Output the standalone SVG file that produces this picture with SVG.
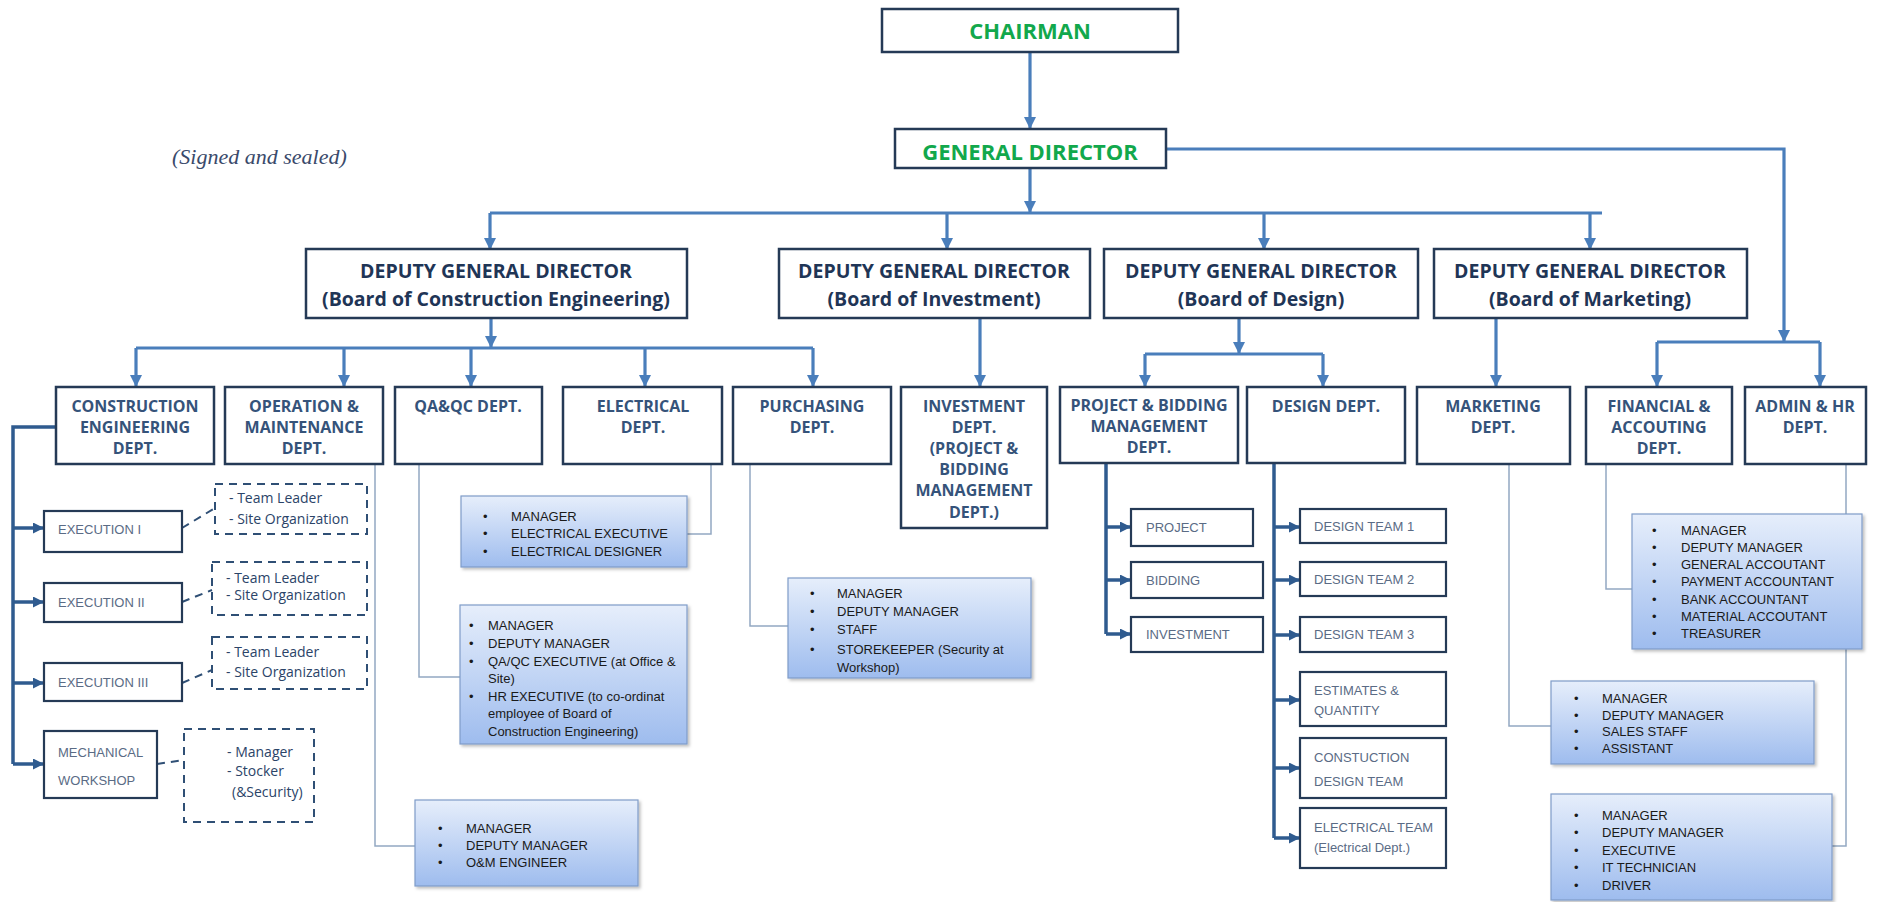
<svg xmlns="http://www.w3.org/2000/svg" width="1896" height="902" viewBox="0 0 1896 902">
<defs>
<linearGradient id="g" x1="0" y1="0" x2="0" y2="1"><stop offset="0" stop-color="#e6eefb"/><stop offset="1" stop-color="#9ebcee"/></linearGradient>
<filter id="sh" x="-5%" y="-5%" width="115%" height="120%"><feDropShadow dx="2" dy="2" stdDeviation="1.5" flood-color="#000" flood-opacity="0.25"/></filter>
<marker id="a" markerUnits="userSpaceOnUse" markerWidth="12" markerHeight="12" viewBox="0 0 10 10" refX="10" refY="5" orient="auto"><path d="M0,0 L10,5 L0,10 z" fill="#4a7ebb"/></marker>
<marker id="ad" markerUnits="userSpaceOnUse" markerWidth="11" markerHeight="11" viewBox="0 0 10 10" refX="10" refY="5" orient="auto"><path d="M0,0 L10,5 L0,10 z" fill="#2f5b8f"/></marker>
<style>
.box{fill:#fff;stroke:#253a56;stroke-width:2.5}
.sb{fill:#fff;stroke:#253a56;stroke-width:2.2}
.hd{font-family:"Open Sans","Liberation Sans",sans-serif;font-weight:700;fill:#35537a;font-size:16px;text-anchor:middle}
.top{fill:#12a84c;font-size:22px}
.dgd{fill:#1f3556;font-size:19.5px}
.st{font-family:"Liberation Sans",Arial,sans-serif;font-size:13px;fill:#5a6b85}
.li{font-family:"Liberation Sans",Arial,sans-serif;font-size:13px;fill:#1a1a1a}
.lb{fill:url(#g);stroke:#7f9cc9;stroke-width:1.2;filter:url(#sh)}
.c{stroke:#4a7ebb;stroke-width:3.2;fill:none}
.cd{stroke:#2f5b8f;stroke-width:3.5;fill:none}
.t{stroke:#93a8c2;stroke-width:1.5;fill:none}
.d{stroke:#2f4f75;stroke-width:2;stroke-dasharray:8 6;fill:none}
.dt{font-family:"Open Sans","Liberation Sans",sans-serif;font-size:14px;fill:#2b4468}
</style>
</defs>
<rect width="1896" height="902" fill="#fff"/>

<text x="172" y="164" font-family="Liberation Serif,serif" font-style="italic" font-size="22" fill="#3a4a6b">(Signed and sealed)</text>

<g id="connectors">
<path class="c" d="M1030,52 V129" marker-end="url(#a)"/>
<path class="c" d="M1030,168 V213" marker-end="url(#a)"/>
<path class="c" d="M490,213 H1602"/>
<path class="c" d="M490,213 V250" marker-end="url(#a)"/>
<path class="c" d="M947,213 V250" marker-end="url(#a)"/>
<path class="c" d="M1264,213 V250" marker-end="url(#a)"/>
<path class="c" d="M1590,213 V250" marker-end="url(#a)"/>
<path class="c" d="M1166,149 H1784 V342" marker-end="url(#a)"/>
<path class="c" d="M1657,342 H1820"/>
<path class="c" d="M1657,342 V387" marker-end="url(#a)"/>
<path class="c" d="M1820,342 V387" marker-end="url(#a)"/>
<path class="c" d="M491,318 V348" marker-end="url(#a)"/>
<path class="c" d="M136,348 H813"/>
<path class="c" d="M136,348 V387" marker-end="url(#a)"/>
<path class="c" d="M344,348 V387" marker-end="url(#a)"/>
<path class="c" d="M471,348 V387" marker-end="url(#a)"/>
<path class="c" d="M645,348 V387" marker-end="url(#a)"/>
<path class="c" d="M813,348 V387" marker-end="url(#a)"/>
<path class="c" d="M980,318 V387" marker-end="url(#a)"/>
<path class="c" d="M1239,318 V354" marker-end="url(#a)"/>
<path class="c" d="M1145,354 H1323"/>
<path class="c" d="M1145,354 V387" marker-end="url(#a)"/>
<path class="c" d="M1323,354 V387" marker-end="url(#a)"/>
<path class="c" d="M1496,318 V387" marker-end="url(#a)"/>
<path class="cd" d="M56,427 H13 V764"/>
<path class="cd" d="M13,528 H44" marker-end="url(#ad)"/>
<path class="cd" d="M13,602 H44" marker-end="url(#ad)"/>
<path class="cd" d="M13,683 H44" marker-end="url(#ad)"/>
<path class="cd" d="M13,764 H44" marker-end="url(#ad)"/>
<path class="cd" d="M1106,463 V634"/>
<path class="cd" d="M1106,527 H1131" marker-end="url(#ad)"/>
<path class="cd" d="M1106,580 H1131" marker-end="url(#ad)"/>
<path class="cd" d="M1106,634 H1131" marker-end="url(#ad)"/>
<path class="cd" d="M1274,463 V838"/>
<path class="cd" d="M1274,527 H1300" marker-end="url(#ad)"/>
<path class="cd" d="M1274,580 H1300" marker-end="url(#ad)"/>
<path class="cd" d="M1274,635 H1300" marker-end="url(#ad)"/>
<path class="cd" d="M1274,700 H1300" marker-end="url(#ad)"/>
<path class="cd" d="M1274,768 H1300" marker-end="url(#ad)"/>
<path class="cd" d="M1274,838 H1300" marker-end="url(#ad)"/>
<path class="t" d="M375,464 V846 H415"/>
<path class="t" d="M419,464 V677 H460"/>
<path class="t" d="M711,464 V534 H687"/>
<path class="t" d="M750,464 V626 H788"/>
<path class="t" d="M1509,464 V726 H1551"/>
<path class="t" d="M1606,464 V589 H1632"/>
<path class="t" d="M1846,464 V846 H1832"/>
<path class="d" d="M182,528 L215,508"/>
<path class="d" d="M182,602 L212,590"/>
<path class="d" d="M182,683 L212,670"/>
<path class="d" d="M157,764 L184,760"/>
</g>

<g id="chairman"><rect class="box" x="882" y="9" width="296" height="43"/><text class="hd top" x="1030" y="39">CHAIRMAN</text></g>
<g id="general-director"><rect class="box" x="895" y="129" width="271" height="39"/><text class="hd top" x="1030" y="160">GENERAL DIRECTOR</text></g>

<g id="dgd-construction"><rect class="box" x="306" y="249" width="381" height="69"/><text class="hd dgd" x="496" y="278">DEPUTY GENERAL DIRECTOR</text><text class="hd dgd" x="496" y="306">(Board of Construction Engineering)</text></g>
<g id="dgd-investment"><rect class="box" x="779" y="249" width="311" height="69"/><text class="hd dgd" x="934" y="278">DEPUTY GENERAL DIRECTOR</text><text class="hd dgd" x="934" y="306">(Board of Investment)</text></g>
<g id="dgd-design"><rect class="box" x="1104" y="249" width="314" height="69"/><text class="hd dgd" x="1261" y="278">DEPUTY GENERAL DIRECTOR</text><text class="hd dgd" x="1261" y="306">(Board of Design)</text></g>
<g id="dgd-marketing"><rect class="box" x="1434" y="249" width="313" height="69"/><text class="hd dgd" x="1590" y="278">DEPUTY GENERAL DIRECTOR</text><text class="hd dgd" x="1590" y="306">(Board of Marketing)</text></g>

<g id="construction-dept"><rect class="box" x="56" y="387" width="158" height="77"/><text class="hd" x="135" y="412">CONSTRUCTION</text><text class="hd" x="135" y="433">ENGINEERING</text><text class="hd" x="135" y="454">DEPT.</text></g>
<g id="om-dept"><rect class="box" x="225" y="387" width="158" height="77"/><text class="hd" x="304" y="412">OPERATION &amp;</text><text class="hd" x="304" y="433">MAINTENANCE</text><text class="hd" x="304" y="454">DEPT.</text></g>
<g id="qaqc-dept"><rect class="box" x="395" y="387" width="147" height="77"/><text class="hd" x="468" y="412">QA&amp;QC DEPT.</text></g>
<g id="electrical-dept"><rect class="box" x="563" y="387" width="159" height="77"/><text class="hd" x="643" y="412">ELECTRICAL</text><text class="hd" x="643" y="433">DEPT.</text></g>
<g id="purchasing-dept"><rect class="box" x="733" y="387" width="158" height="77"/><text class="hd" x="812" y="412">PURCHASING</text><text class="hd" x="812" y="433">DEPT.</text></g>
<g id="investment-dept"><rect class="box" x="901" y="387" width="146" height="141"/><text class="hd" x="974" y="412">INVESTMENT</text><text class="hd" x="974" y="433">DEPT.</text><text class="hd" x="974" y="454">(PROJECT &amp;</text><text class="hd" x="974" y="475">BIDDING</text><text class="hd" x="974" y="496">MANAGEMENT</text><text class="hd" x="974" y="518">DEPT.)</text></g>
<g id="pbm-dept"><rect class="box" x="1060" y="387" width="178" height="76"/><text class="hd" x="1149" y="411" font-size="14.5">PROJECT &amp;  BIDDING</text><text class="hd" x="1149" y="432" font-size="14.5">MANAGEMENT</text><text class="hd" x="1149" y="453" font-size="14.5">DEPT.</text></g>
<g id="design-dept"><rect class="box" x="1247" y="387" width="158" height="76"/><text class="hd" x="1326" y="412">DESIGN DEPT.</text></g>
<g id="marketing-dept"><rect class="box" x="1417" y="387" width="153" height="77"/><text class="hd" x="1493" y="412">MARKETING</text><text class="hd" x="1493" y="433">DEPT.</text></g>
<g id="financial-dept"><rect class="box" x="1586" y="387" width="146" height="77"/><text class="hd" x="1659" y="412">FINANCIAL &amp;</text><text class="hd" x="1659" y="433">ACCOUTING</text><text class="hd" x="1659" y="454">DEPT.</text></g>
<g id="admin-dept"><rect class="box" x="1745" y="387" width="121" height="77"/><text class="hd" x="1805" y="412">ADMIN &amp; HR</text><text class="hd" x="1805" y="433">DEPT.</text></g>

<g id="execution-1"><rect class="sb" x="44" y="511" width="138" height="41"/><text class="st" x="58" y="534">EXECUTION I</text></g>
<g id="execution-2"><rect class="sb" x="44" y="583" width="138" height="39"/><text class="st" x="58" y="607">EXECUTION II</text></g>
<g id="execution-3"><rect class="sb" x="44" y="663" width="138" height="38"/><text class="st" x="58" y="687">EXECUTION III</text></g>
<g id="mechanical-workshop"><rect class="sb" x="44" y="731" width="113" height="67"/><text class="st" x="58" y="757">MECHANICAL</text><text class="st" x="58" y="785">WORKSHOP</text></g>

<g id="team-1"><rect class="d" x="215" y="484" width="152" height="50"/><text class="dt" x="229" y="503">- Team Leader</text><text class="dt" x="229" y="524">- Site Organization</text></g>
<g id="team-2"><rect class="d" x="212" y="562" width="155" height="53"/><text class="dt" x="226" y="583" font-size="16.5">- Team Leader</text><text class="dt" x="226" y="600">- Site Organization</text></g>
<g id="team-3"><rect class="d" x="212" y="637" width="155" height="52"/><text class="dt" x="226" y="657">- Team Leader</text><text class="dt" x="226" y="677">- Site Organization</text></g>
<g id="workshop-staff"><rect class="d" x="184" y="729" width="130" height="93"/><text class="dt" x="227" y="757">- Manager</text><text class="dt" x="227" y="776">- Stocker</text><text class="dt" x="232" y="797">(&amp;Security)</text></g>

<g id="electrical-list" font-size="13.7"><rect class="lb" x="461" y="496" width="226" height="71"/>
<text class="li" font-size="13.7"><tspan x="483" y="521">•</tspan><tspan x="511">MANAGER</tspan></text>
<text class="li" font-size="13.7"><tspan x="483" y="538">•</tspan><tspan x="511">ELECTRICAL EXECUTIVE</tspan></text>
<text class="li" font-size="13.7"><tspan x="483" y="556">•</tspan><tspan x="511">ELECTRICAL DESIGNER</tspan></text></g>

<g id="qaqc-list"><rect class="lb" x="460" y="605" width="227" height="139"/>
<text class="li" font-size="13.4"><tspan x="469" y="630">•</tspan><tspan x="488">MANAGER</tspan></text>
<text class="li" font-size="13.4"><tspan x="469" y="648">•</tspan><tspan x="488">DEPUTY MANAGER</tspan></text>
<text class="li" font-size="13.4"><tspan x="469" y="666">•</tspan><tspan x="488">QA/QC EXECUTIVE (at Office &amp;</tspan></text>
<text class="li" font-size="13.4" x="488" y="683">Site)</text>
<text class="li" font-size="13.4"><tspan x="469" y="701">•</tspan><tspan x="488">HR EXECUTIVE (to co-ordinat</tspan></text>
<text class="li" font-size="13.4" x="488" y="718">employee of Board of</text>
<text class="li" font-size="13.4" x="488" y="736">Construction Engineering)</text></g>

<g id="purchasing-list"><rect class="lb" x="788" y="578" width="243" height="100"/>
<text class="li" font-size="14"><tspan x="810" y="598">•</tspan><tspan x="837">MANAGER</tspan></text>
<text class="li" font-size="14"><tspan x="810" y="616">•</tspan><tspan x="837">DEPUTY MANAGER</tspan></text>
<text class="li" font-size="14"><tspan x="810" y="634">•</tspan><tspan x="837">STAFF</tspan></text>
<text class="li" font-size="14"><tspan x="810" y="654">•</tspan><tspan x="837">STOREKEEPER (Security at</tspan></text>
<text class="li" font-size="14" x="837" y="672" font-family="Liberation Serif,serif">Workshop)</text></g>

<g id="om-list"><rect class="lb" x="415" y="800" width="223" height="86"/>
<text class="li"><tspan x="438" y="833">•</tspan><tspan x="466">MANAGER</tspan></text>
<text class="li"><tspan x="438" y="850">•</tspan><tspan x="466">DEPUTY MANAGER</tspan></text>
<text class="li"><tspan x="438" y="867">•</tspan><tspan x="466">O&amp;M ENGINEER</tspan></text></g>

<g id="financial-list"><rect class="lb" x="1632" y="514" width="230" height="135"/>
<text class="li"><tspan x="1652" y="535">•</tspan><tspan x="1681">MANAGER</tspan></text>
<text class="li"><tspan x="1652" y="552">•</tspan><tspan x="1681">DEPUTY MANAGER</tspan></text>
<text class="li"><tspan x="1652" y="569">•</tspan><tspan x="1681">GENERAL ACCOUTANT</tspan></text>
<text class="li"><tspan x="1652" y="586">•</tspan><tspan x="1681">PAYMENT ACCOUNTANT</tspan></text>
<text class="li"><tspan x="1652" y="604">•</tspan><tspan x="1681">BANK ACCOUNTANT</tspan></text>
<text class="li"><tspan x="1652" y="621">•</tspan><tspan x="1681">MATERIAL ACCOUTANT</tspan></text>
<text class="li"><tspan x="1652" y="638">•</tspan><tspan x="1681">TREASURER</tspan></text></g>

<g id="marketing-list"><rect class="lb" x="1551" y="681" width="263" height="83"/>
<text class="li"><tspan x="1574" y="703">•</tspan><tspan x="1602">MANAGER</tspan></text>
<text class="li"><tspan x="1574" y="720">•</tspan><tspan x="1602">DEPUTY MANAGER</tspan></text>
<text class="li"><tspan x="1574" y="736">•</tspan><tspan x="1602">SALES STAFF</tspan></text>
<text class="li"><tspan x="1574" y="753">•</tspan><tspan x="1602">ASSISTANT</tspan></text></g>

<g id="admin-list"><rect class="lb" x="1551" y="794" width="281" height="106"/>
<text class="li"><tspan x="1574" y="820">•</tspan><tspan x="1602">MANAGER</tspan></text>
<text class="li"><tspan x="1574" y="837">•</tspan><tspan x="1602">DEPUTY MANAGER</tspan></text>
<text class="li"><tspan x="1574" y="855">•</tspan><tspan x="1602">EXECUTIVE</tspan></text>
<text class="li"><tspan x="1574" y="872">•</tspan><tspan x="1602">IT TECHNICIAN</tspan></text>
<text class="li"><tspan x="1574" y="890">•</tspan><tspan x="1602">DRIVER</tspan></text></g>

<g id="project"><rect class="sb" x="1131" y="509" width="122" height="37"/><text class="st" x="1146" y="532">PROJECT</text></g>
<g id="bidding"><rect class="sb" x="1131" y="562" width="132" height="36"/><text class="st" x="1146" y="585">BIDDING</text></g>
<g id="investment"><rect class="sb" x="1131" y="617" width="132" height="35"/><text class="st" x="1146" y="639">INVESTMENT</text></g>

<g id="design-team-1"><rect class="sb" x="1300" y="509" width="146" height="34"/><text class="st" x="1314" y="531">DESIGN TEAM 1</text></g>
<g id="design-team-2"><rect class="sb" x="1300" y="562" width="146" height="34"/><text class="st" x="1314" y="584">DESIGN TEAM 2</text></g>
<g id="design-team-3"><rect class="sb" x="1300" y="617" width="146" height="35"/><text class="st" x="1314" y="639">DESIGN TEAM 3</text></g>
<g id="estimates"><rect class="sb" x="1300" y="672" width="146" height="54"/><text class="st" x="1314" y="695">ESTIMATES &amp;</text><text class="st" x="1314" y="715">QUANTITY</text></g>
<g id="construction-design-team"><rect class="sb" x="1300" y="738" width="146" height="60"/><text class="st" x="1314" y="762">CONSTUCTION</text><text class="st" x="1314" y="786">DESIGN TEAM</text></g>
<g id="electrical-team"><rect class="sb" x="1300" y="808" width="146" height="60"/><text class="st" x="1314" y="832">ELECTRICAL TEAM</text><text class="st" x="1314" y="852" font-size="11">(Electrical Dept.)</text></g>
</svg>
